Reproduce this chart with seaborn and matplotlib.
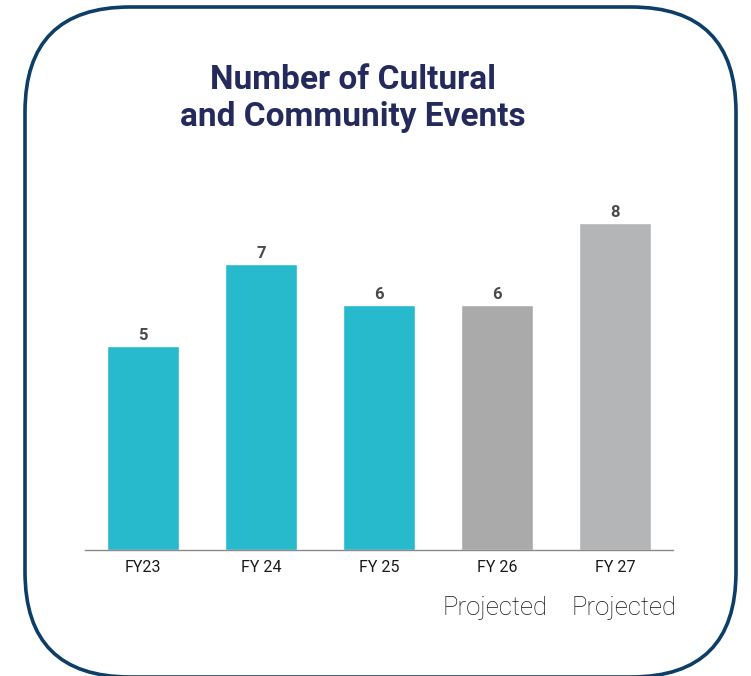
import matplotlib
matplotlib.use("Agg")
import matplotlib.pyplot as plt
import seaborn as sns
import pandas as pd
from matplotlib.patches import FancyBboxPatch

categories = ["FY23", "FY 24", "FY 25", "FY 26", "FY 27"]
values = [5, 7, 6, 6, 8]
bar_colors = ["#27b9cc", "#27b9cc", "#27b9cc", "#abaaab", "#b4b5b7"]
notes = ["", "", "", "Projected", "Projected"]
title = "Number of Cultural\nand Community Events"

sns.set_theme(style="white")
plt.rcParams["font.family"] = ["Roboto", "DejaVu Sans"]

W, H = 751, 676
fig = plt.figure(figsize=(W / 100, H / 100), dpi=100)
fig.patch.set_facecolor("white")

# rounded border
x0, y0, x1, y1 = 25, 7, 736, 677
R = 105
box = FancyBboxPatch((x0 / W, 1 - y1 / H), (x1 - x0) / W, (y1 - y0) / H,
                     boxstyle="round,pad=0,rounding_size=%f" % (R / W),
                     transform=fig.transFigure, facecolor="none",
                     edgecolor="#0d3e68", linewidth=2.6, mutation_aspect=W / H,
                     zorder=5, clip_on=False)
fig.patches.append(box)

ax_l, ax_r = 85, 673
base = 550
ppu = 40.85
ymax = 8.5
ax_top = base - ymax * ppu
ax = fig.add_axes([ax_l / W, 1 - base / H, (ax_r - ax_l) / W, (base - ax_top) / H])
ax.set_facecolor("none")

df = pd.DataFrame({"cat": categories, "val": values})
sns.barplot(data=df, x="cat", y="val", hue="cat", palette=bar_colors,
            width=0.61, legend=False, ax=ax, saturation=1)
ax.set_xlim(-0.49, 4.49)
ax.set_ylim(0, ymax)
for s in ["top", "right", "left"]:
    ax.spines[s].set_visible(False)
ax.spines["bottom"].set_color("#8a8a8a")
ax.spines["bottom"].set_linewidth(1.0)
ax.set_yticks([])
ax.set_xlabel("")
ax.set_ylabel("")
ax.tick_params(axis="x", length=0, pad=7, labelsize=11.5, labelcolor="#1a1a1a")

for i, v in enumerate(values):
    ax.text(i, v + 0.07, str(v), ha="center", va="bottom", fontsize=12,
            fontweight="bold", color="#4a4a4a")

for i, n in enumerate(notes):
    if n:
        ax.annotate(n, xy=(i, 0), xycoords="data", xytext=(-2 if i == 3 else 9, -58),
                    textcoords="offset pixels", ha="center", va="center",
                    fontsize=18.5, fontweight="light", color="#111111")

fig.text(0.5 * (182 + 523) / W, 1 - 98.5 / H, title, ha="center", va="center",
         fontsize=24, fontweight="bold", color="#242a5b", linespacing=1.23)

fig.savefig("out.png", dpi=100, facecolor="white")
